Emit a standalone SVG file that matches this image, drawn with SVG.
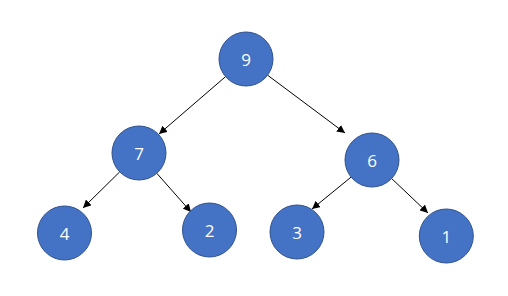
<svg xmlns="http://www.w3.org/2000/svg" width="508" height="296" viewBox="0 0 508 296">
<style>
.n{fill:#4472C4;stroke:#2F528F;stroke-width:1}
.t{fill:#fff;font-family:"Open Sans","Noto Sans",sans-serif;font-size:17px;text-anchor:middle;dominant-baseline:central}
.e{stroke:#000;stroke-width:1;fill:none;marker-end:url(#a)}
</style>
<defs>
<marker id="a" markerUnits="userSpaceOnUse" markerWidth="9" markerHeight="8" refX="8" refY="4" orient="auto"><path d="M0,0 L8,4 L0,8 Z" fill="#000"/></marker>
</defs>
<rect width="508" height="296" fill="#fff"/>
<g id="edges">
<line class="e" x1="225.6" y1="76.6" x2="159" y2="134"/>
<line class="e" x1="267.6" y1="75.2" x2="345" y2="133"/>
<line class="e" x1="119.7" y1="171.9" x2="83" y2="208"/>
<line class="e" x1="156.8" y1="173.3" x2="191" y2="212"/>
<line class="e" x1="351.1" y1="177.1" x2="312" y2="209"/>
<line class="e" x1="391.6" y1="178.5" x2="428" y2="213"/>
</g>
<g id="n9"><circle class="n" cx="246" cy="59" r="27"/><text class="t" x="246" y="59">9</text></g>
<g id="n7"><circle class="n" cx="139" cy="153" r="27"/><text class="t" x="139" y="153">7</text></g>
<g id="n6"><circle class="n" cx="372" cy="160" r="27"/><text class="t" x="372" y="160">6</text></g>
<g id="n4"><circle class="n" cx="64.5" cy="233" r="27"/><text class="t" x="64.5" y="233">4</text></g>
<g id="n2"><circle class="n" cx="209.5" cy="230" r="27"/><text class="t" x="209.5" y="230">2</text></g>
<g id="n3"><circle class="n" cx="297" cy="232" r="27"/><text class="t" x="297" y="232">3</text></g>
<g id="n1"><circle class="n" cx="446.3" cy="236" r="27"/><text class="t" x="446.3" y="236">1</text></g>
</svg>
